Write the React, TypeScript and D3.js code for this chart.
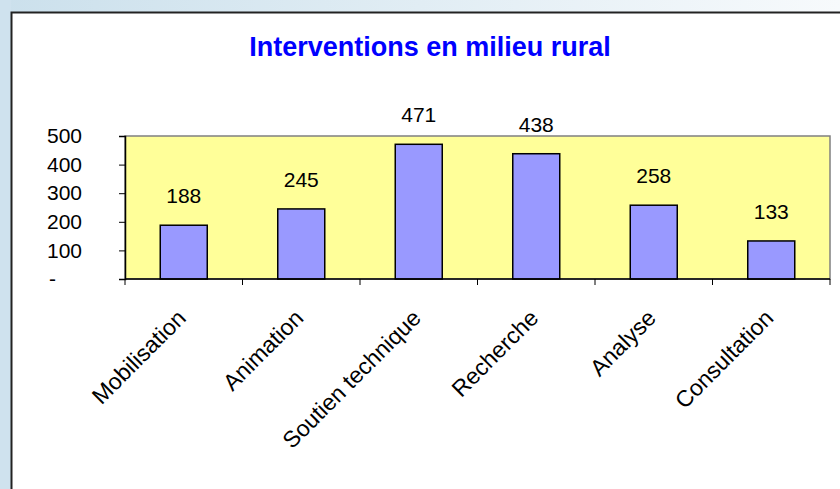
import React, { useEffect, useRef } from 'react';
import * as d3 from 'd3';

const categories = ['Mobilisation', 'Animation', 'Soutien technique', 'Recherche', 'Analyse', 'Consultation'];
const values = [188, 245, 471, 438, 258, 133];
const yTicks = [0, 100, 200, 300, 400, 500];
const chartTitle = 'Interventions en milieu rural';

const W = 840;
const H = 489;
const plot = { left: 125, right: 830, top: 136, bottom: 279 };

const App = () => {
  const svgRef = useRef<SVGSVGElement>(null);

  useEffect(() => {
    document.body.style.margin = '0';
    const svg = d3.select(svgRef.current);
    svg.selectAll('*').remove();

    const defs = svg.append('defs');
    const grad = defs.append('linearGradient').attr('id', 'bg').attr('x1', 0).attr('x2', 1).attr('y1', 0).attr('y2', 0);
    grad.append('stop').attr('offset', '0%').attr('stop-color', '#cbe0ec');
    grad.append('stop').attr('offset', '100%').attr('stop-color', '#f7fafc');

    // outer frame
    svg.append('rect').attr('width', W).attr('height', H).attr('fill', 'url(#bg)');
    svg.append('rect').attr('x', 0).attr('y', 0).attr('width', 11).attr('height', H).attr('fill', '#cfe2ee');
    svg.append('rect').attr('x', 11).attr('y', 13).attr('width', W).attr('height', H).attr('fill', '#fff');
    svg.append('path').attr('d', `M11.5,${H}V12.5H${W}`).attr('fill', 'none').attr('stroke', '#222').attr('stroke-width', 2);

    svg.append('text')
      .attr('x', 430).attr('y', 56)
      .attr('text-anchor', 'middle')
      .attr('font-family', 'Liberation Sans, Arial, sans-serif')
      .attr('font-weight', 'bold')
      .attr('font-size', 27)
      .attr('fill', '#0000ff')
      .text(chartTitle);

    const x = d3.scaleBand().domain(categories).range([plot.left, plot.right]).padding(0);
    const y = d3.scaleLinear().domain([0, 500]).range([plot.bottom, plot.top]);

    // plot area
    svg.append('rect')
      .attr('x', plot.left).attr('y', plot.top)
      .attr('width', plot.right - plot.left).attr('height', plot.bottom - plot.top)
      .attr('fill', '#ffff99')
      .attr('stroke', '#808080').attr('stroke-width', 1.5);

    const barW = x.bandwidth() * 0.4;
    svg.selectAll('rect.bar')
      .data(values)
      .enter()
      .append('rect')
      .attr('class', 'bar')
      .attr('x', (d, i) => x(categories[i])! + (x.bandwidth() - barW) / 2)
      .attr('y', d => y(d))
      .attr('width', barW)
      .attr('height', d => y(0) - y(d))
      .attr('fill', '#9999ff')
      .attr('stroke', '#000')
      .attr('stroke-width', 1.5);

    svg.selectAll('text.val')
      .data(values)
      .enter()
      .append('text')
      .attr('class', 'val')
      .attr('x', (d, i) => x(categories[i])! + x.bandwidth() / 2)
      .attr('y', d => y(d) - 22)
      .attr('text-anchor', 'middle')
      .attr('font-family', 'Liberation Sans, Arial, sans-serif')
      .attr('font-size', 21)
      .attr('fill', '#000')
      .text(d => d);

    // y axis
    const yAxis = svg.append('g')
      .attr('transform', `translate(${plot.left},0)`)
      .call(d3.axisLeft(y).tickValues(yTicks).tickSize(6).tickPadding(37).tickFormat(d => (d === 0 ? '-' : String(d))));
    yAxis.select('.domain').attr('stroke', '#000').attr('stroke-width', 1.5);
    yAxis.selectAll('line').attr('stroke', '#000');
    yAxis.selectAll('text')
      .attr('font-family', 'Liberation Sans, Arial, sans-serif')
      .attr('font-size', 21)
      .attr('fill', '#000');
    yAxis.selectAll('.tick').filter(d => d === 0).select('text').attr('x', -69);

    // x axis
    const xAxis = svg.append('g')
      .attr('transform', `translate(0,${plot.bottom})`);
    xAxis.append('line')
      .attr('x1', plot.left).attr('x2', plot.right)
      .attr('stroke', '#000').attr('stroke-width', 1.5);
    const edges = categories.map(c => x(c)!).concat([plot.right]);
    xAxis.selectAll('line.tick')
      .data(edges)
      .enter()
      .append('line')
      .attr('class', 'tick')
      .attr('x1', d => d).attr('x2', d => d)
      .attr('y1', 0).attr('y2', 6)
      .attr('stroke', '#000');
    xAxis.selectAll('text')
      .data(categories)
      .enter()
      .append('text')
      .attr('transform', d => `translate(${x(d)! + x.bandwidth() / 2 - 8},29) rotate(-45)`)
      .attr('dy', '0.71em')
      .attr('text-anchor', 'end')
      .attr('font-family', 'Liberation Sans, Arial, sans-serif')
      .attr('font-size', 23)
      .attr('fill', '#000')
      .text(d => d);
  }, []);

  return <svg ref={svgRef} width={W} height={H} style={{ display: 'block' }}></svg>;
};

export default App;
